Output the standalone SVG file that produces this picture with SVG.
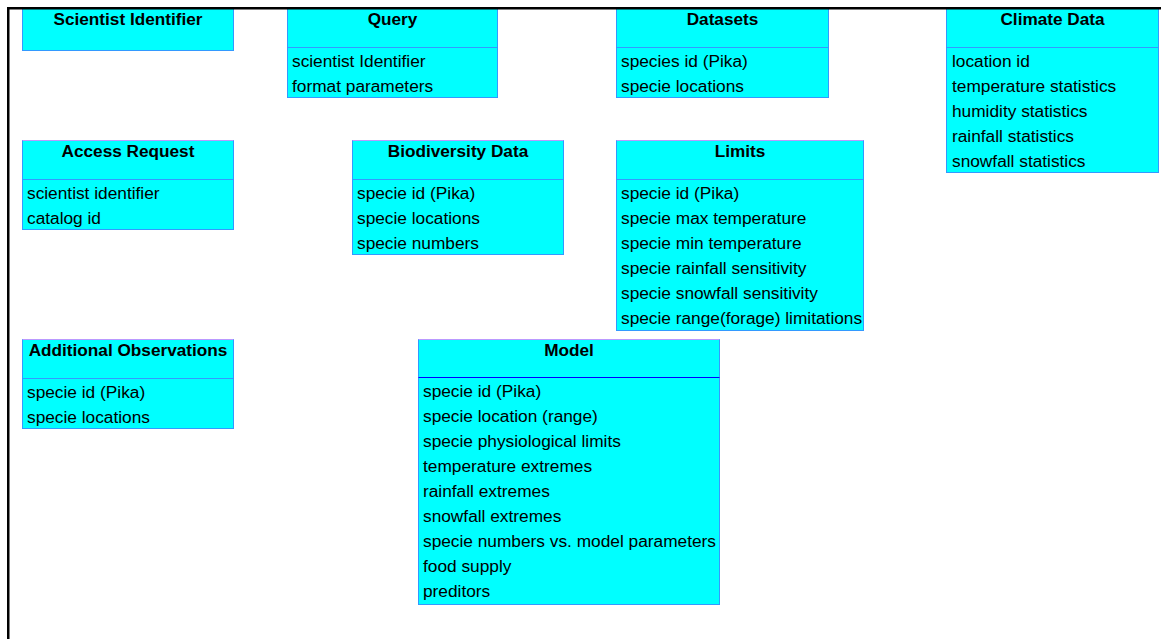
<svg xmlns="http://www.w3.org/2000/svg" width="1161" height="639" viewBox="0 0 1161 639">
<style>
.box{fill:#00FFFF;stroke:#3399FF;stroke-width:1}
.top{stroke:#BB99FF;stroke-width:1}
.sep{stroke:#3399FF;stroke-width:1}
.sepd{stroke:#0000FF;stroke-width:1}
.h{font-family:"Liberation Sans",Arial,sans-serif;font-size:17.2px;font-weight:bold;fill:#000;text-anchor:middle}
.a{font-family:"Liberation Sans",Arial,sans-serif;font-size:17.3px;fill:#000}
</style>
<rect width="1161" height="639" fill="#FFFFFF"/>
<g id="connectors"></g>
<g id="scientist-identifier">
<rect class="box" x="22.5" y="8.5" width="211" height="42"/>
<text class="h" x="128" y="25">Scientist Identifier</text>
</g>
<g id="query">
<rect class="box" x="287.5" y="8.5" width="210" height="89"/>
<line class="sep" x1="287.5" y1="47.5" x2="497.5" y2="47.5"/>
<text class="h" x="392.5" y="25">Query</text>
<text class="a" x="292" y="67">scientist Identifier</text>
<text class="a" x="292" y="92">format parameters</text>
</g>
<g id="datasets">
<rect class="box" x="616.5" y="8.5" width="212" height="89"/>
<line class="sep" x1="616.5" y1="47.5" x2="828.5" y2="47.5"/>
<text class="h" x="722.5" y="25">Datasets</text>
<text class="a" x="621" y="67">species id (Pika)</text>
<text class="a" x="621" y="92">specie locations</text>
</g>
<g id="climate-data">
<rect class="box" x="946.5" y="8.5" width="212" height="164"/>
<line class="sep" x1="946.5" y1="47.5" x2="1158.5" y2="47.5"/>
<text class="h" x="1052.5" y="25">Climate Data</text>
<text class="a" x="952" y="67">location id</text>
<text class="a" x="952" y="92">temperature statistics</text>
<text class="a" x="952" y="117">humidity statistics</text>
<text class="a" x="952" y="142">rainfall statistics</text>
<text class="a" x="952" y="167">snowfall statistics</text>
</g>
<g id="access-request">
<rect class="box" x="22.5" y="140.5" width="211" height="89"/>
<line class="top" x1="22.5" y1="140.5" x2="233.5" y2="140.5"/>
<line class="sep" x1="22.5" y1="179.5" x2="233.5" y2="179.5"/>
<text class="h" x="128" y="157">Access Request</text>
<text class="a" x="27" y="199">scientist identifier</text>
<text class="a" x="27" y="224">catalog id</text>
</g>
<g id="biodiversity-data">
<rect class="box" x="352.5" y="140.5" width="211" height="114"/>
<line class="top" x1="352.5" y1="140.5" x2="563.5" y2="140.5"/>
<line class="sep" x1="352.5" y1="179.5" x2="563.5" y2="179.5"/>
<text class="h" x="458" y="157">Biodiversity Data</text>
<text class="a" x="357" y="199">specie id (Pika)</text>
<text class="a" x="357" y="224">specie locations</text>
<text class="a" x="357" y="249">specie numbers</text>
</g>
<g id="limits">
<rect class="box" x="616.5" y="140.5" width="247" height="190"/>
<line class="top" x1="616.5" y1="140.5" x2="863.5" y2="140.5"/>
<line class="sep" x1="616.5" y1="179.5" x2="863.5" y2="179.5"/>
<text class="h" x="740" y="157">Limits</text>
<text class="a" x="621" y="199">specie id (Pika)</text>
<text class="a" x="621" y="224">specie max temperature</text>
<text class="a" x="621" y="249">specie min temperature</text>
<text class="a" x="621" y="274">specie rainfall sensitivity</text>
<text class="a" x="621" y="299">specie snowfall sensitivity</text>
<text class="a" x="621" y="324">specie range(forage) limitations</text>
</g>
<g id="additional-observations">
<rect class="box" x="22.5" y="339.5" width="211" height="89"/>
<line class="top" x1="22.5" y1="339.5" x2="233.5" y2="339.5"/>
<line class="sep" x1="22.5" y1="378.5" x2="233.5" y2="378.5"/>
<text class="h" x="128" y="356">Additional Observations</text>
<text class="a" x="27" y="398">specie id (Pika)</text>
<text class="a" x="27" y="423">specie locations</text>
</g>
<g id="model">
<rect class="box" x="418.5" y="339.5" width="301" height="265"/>
<line class="top" x1="418.5" y1="339.5" x2="719.5" y2="339.5"/>
<line class="sepd" x1="418.5" y1="377.5" x2="719.5" y2="377.5"/>
<text class="h" x="569" y="356">Model</text>
<text class="a" x="423" y="397">specie id (Pika)</text>
<text class="a" x="423" y="422">specie location (range)</text>
<text class="a" x="423" y="447">specie physiological limits</text>
<text class="a" x="423" y="472">temperature extremes</text>
<text class="a" x="423" y="497">rainfall extremes</text>
<text class="a" x="423" y="522">snowfall extremes</text>
<text class="a" x="423" y="547">specie numbers vs. model parameters</text>
<text class="a" x="423" y="572">food supply</text>
<text class="a" x="423" y="597">preditors</text>
</g>
<g id="frame">
<rect x="7" y="7" width="1154" height="2.5" fill="#000"/>
<rect x="7" y="7" width="2.5" height="632" fill="#000"/>
</g>
</svg>
